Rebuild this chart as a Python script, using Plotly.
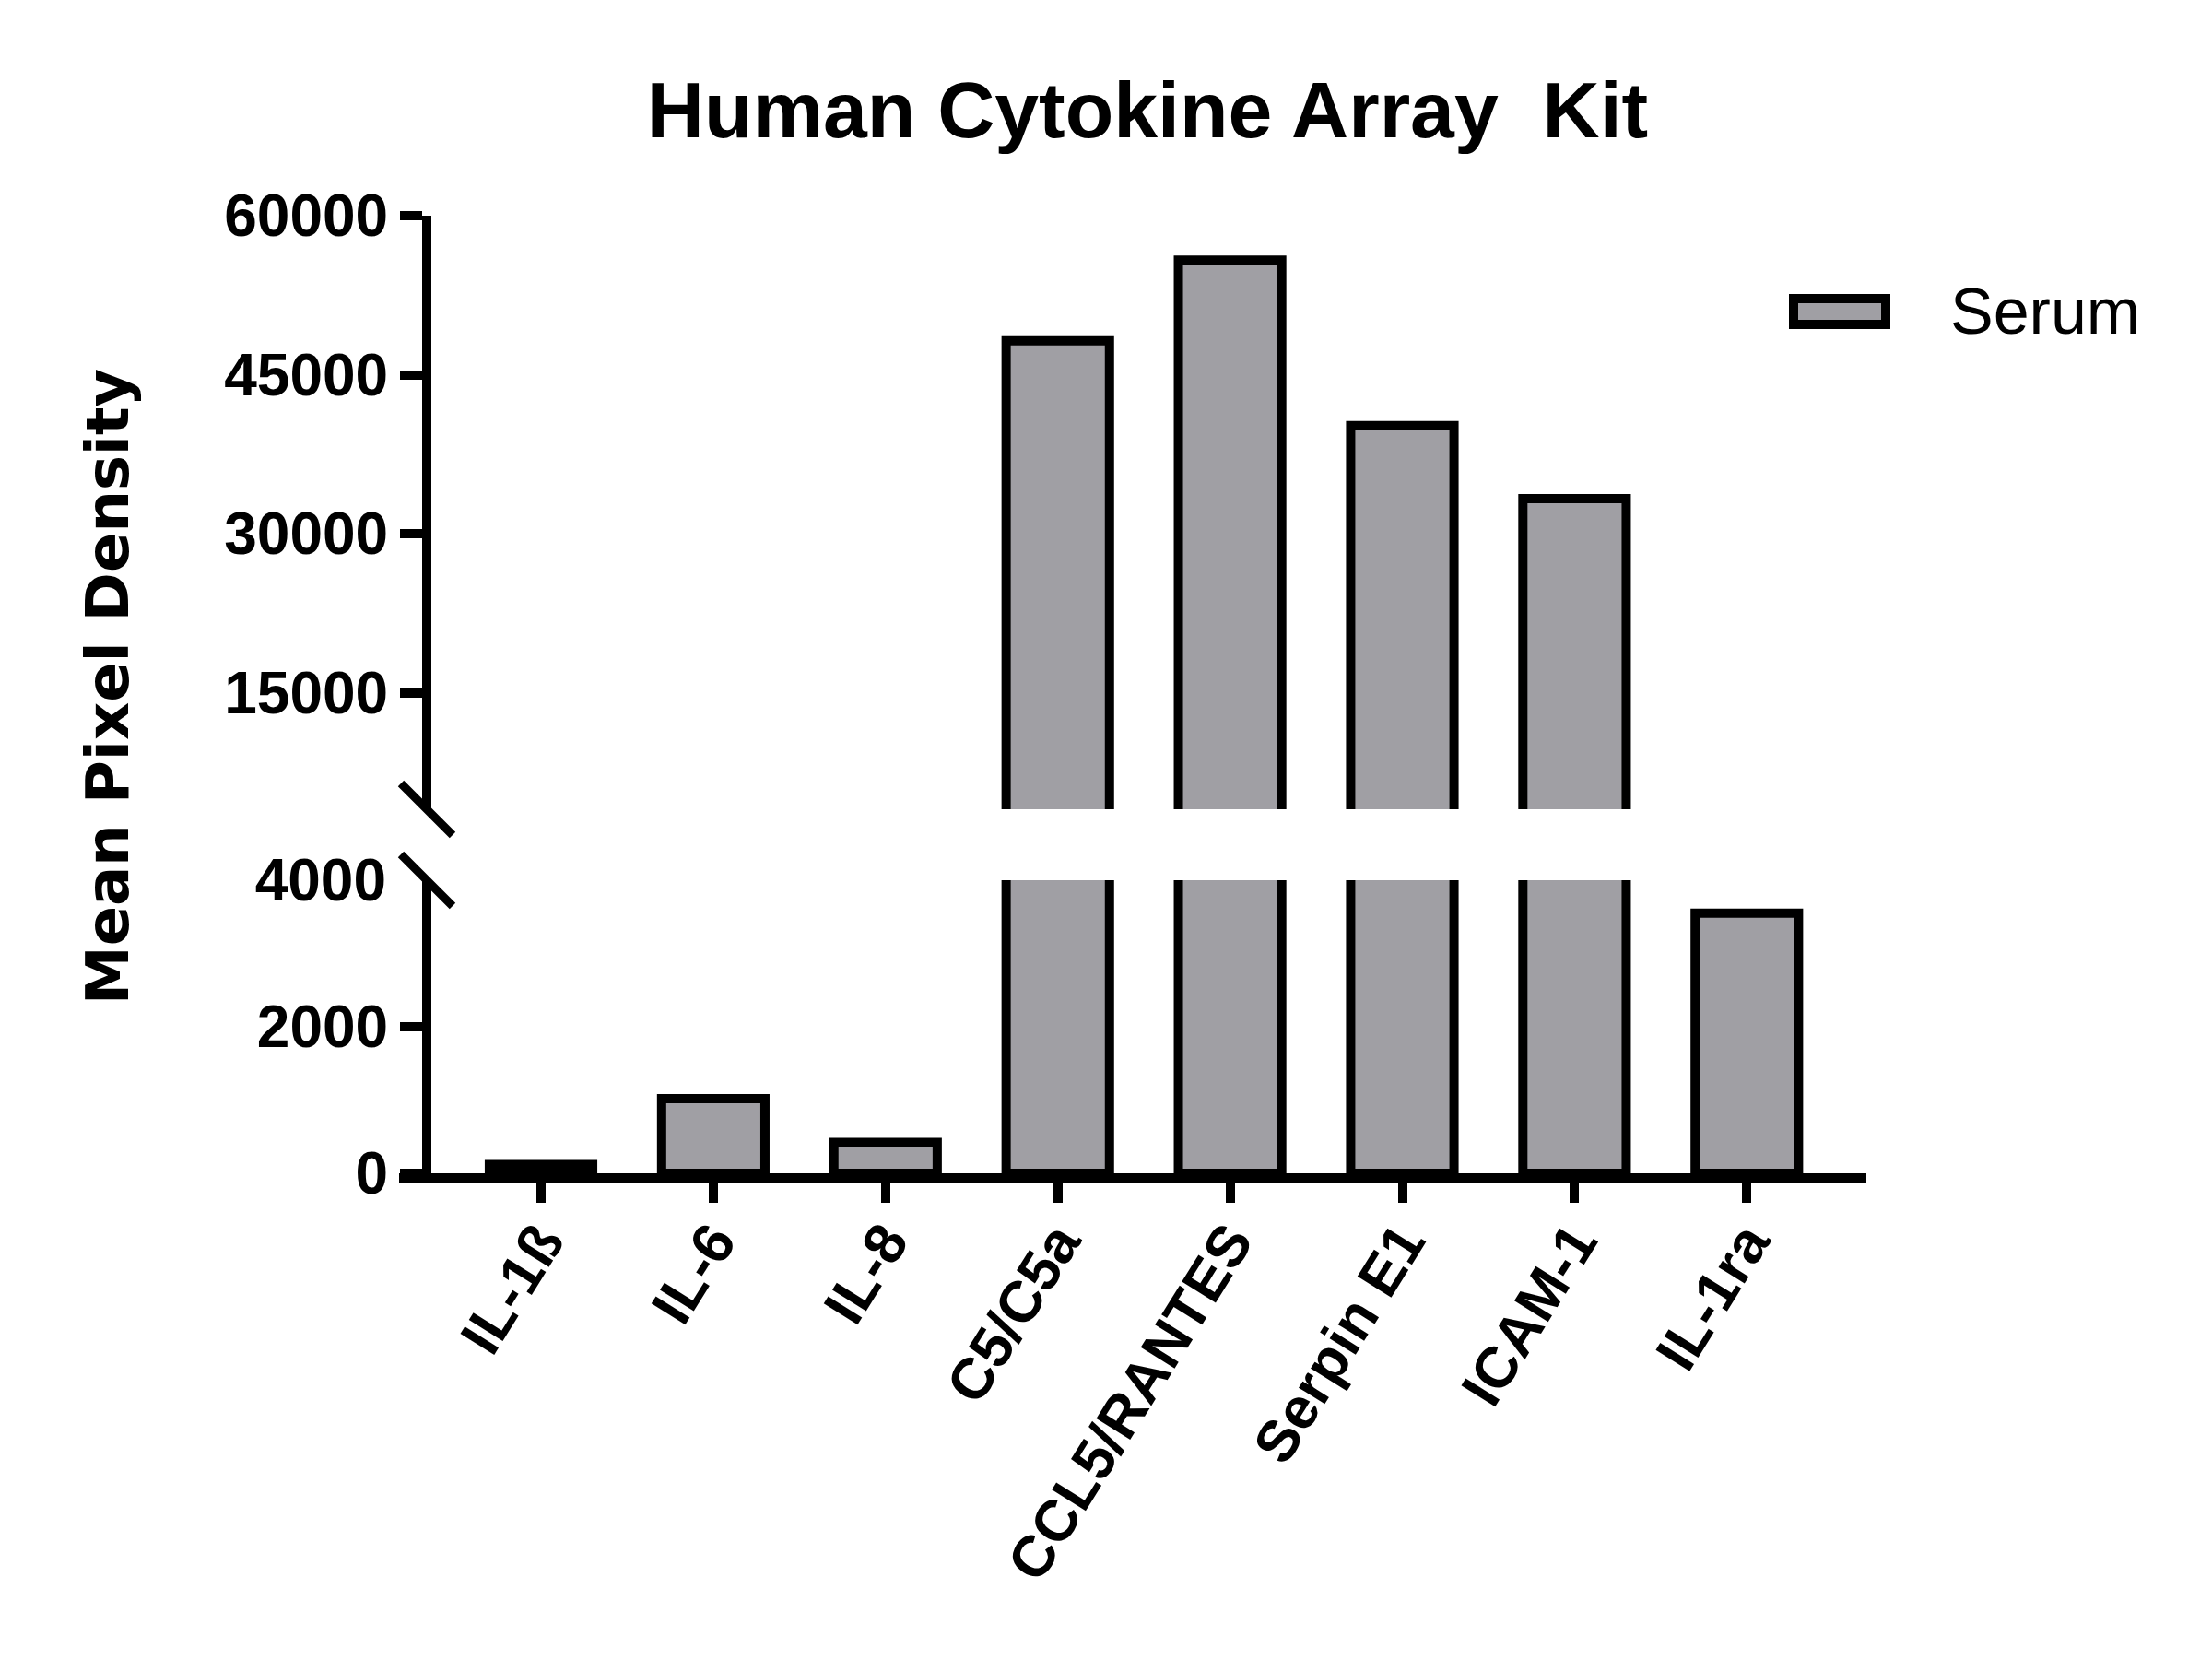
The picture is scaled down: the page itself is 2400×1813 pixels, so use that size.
import plotly.graph_objects as go

# values (mean pixel density, serum)
categories = ["IL-1ß", "IL-6", "IL-8", "C5/C5a", "CCL5/RANTES", "Serpin E1", "ICAM-1", "IL-1ra"]
serum = [120, 1020, 420, 48200, 55800, 40200, 33300, 3550]

lower_ticks = [0, 2000]
lower_top_label = [4000]
upper_ticks = [15000, 30000, 45000, 60000]
break_value = 4000
top_value = 60000

bar_fill = "#a09fa4"
black = "#000000"

# the page body adds an 8px margin around the figure
off = 8
W, H = 2400, 1813
FW, FH = W - 2 * off, H - 2 * off

# plot area in page pixels (as measured on the reference)
left, right, top, bottom = 433, 2025, 234, 1273
pw = right - left
ph = bottom - top


def px_x(px):
    return (px - left) / pw


def px_y(py):
    return (bottom - py) / ph


yaxis_pos = px_x(463)
lower_dom = [0, px_y(955)]
upper_dom = [px_y(878), 1]

ytick_font = dict(family="Arial, Liberation Sans", size=64, color=black, weight="bold")
xtick_font = dict(family="Arial, Liberation Sans", size=63, color=black, weight="bold")
bar_marker = dict(color=bar_fill, line=dict(color=black, width=10))

fig = go.Figure()
fig.add_trace(go.Bar(x=categories, y=serum, name="Serum", marker=bar_marker,
                     width=0.6, xaxis="x", yaxis="y", showlegend=False, hoverinfo="x+y"))
fig.add_trace(go.Bar(x=categories, y=serum, name="Serum", marker=bar_marker,
                     width=0.6, xaxis="x", yaxis="y2", showlegend=False, hoverinfo="x+y"))
# empty trace so the label-only axis (4000 at the top of the lower segment) gets drawn
fig.add_trace(go.Scatter(x=[], y=[], xaxis="x", yaxis="y3", showlegend=False, hoverinfo="skip"))

yax = dict(anchor="free", position=yaxis_pos, showline=True, linewidth=10, linecolor=black,
           ticks="outside", ticklen=24, tickwidth=10, tickcolor=black, tickfont=ytick_font,
           tickformat="d", showgrid=False, zeroline=False, automargin=False)

# break marks on the y axis
slash = dict(type="line", xref="paper", yref="paper", xsizemode="pixel", xanchor=yaxis_pos,
             x0=-28, x1=28, ysizemode="pixel", y0=28, y1=-28, line=dict(color=black, width=9))

fig.update_layout(
    width=FW, height=FH,
    margin=dict(l=left - off, r=FW - (right - off), t=top - off, b=FH - (bottom - off),
                autoexpand=False),
    paper_bgcolor="white", plot_bgcolor="white",
    showlegend=False,
    title=dict(text="Human Cytokine Array\u00a0 Kit", x=(1245 - off) / FW, xanchor="center",
               xref="container", y=1 - (119 - off) / FH, yref="container", yanchor="middle",
               font=dict(family="Arial, Liberation Sans", size=86, color=black, weight="bold")),
    xaxis=dict(domain=[0, 1], range=[-0.824, 7.694], anchor="y", showline=True, linewidth=10,
               linecolor=black, ticks="outside", ticklen=22, tickwidth=10, tickcolor=black,
               tickangle=-58, ticklabelstandoff=-20, tickfont=xtick_font, showgrid=False,
               zeroline=False, automargin=False),
    yaxis=dict(domain=lower_dom, range=[0, break_value], tickvals=lower_ticks, **yax),
    yaxis2=dict(domain=upper_dom, range=[break_value, top_value], tickvals=upper_ticks, **yax),
    yaxis3=dict(overlaying="y", anchor="free", position=yaxis_pos, range=[0, break_value],
                tickvals=lower_top_label, ticks="", ticklabelstandoff=44, showline=False,
                tickfont=ytick_font, tickformat="d", showgrid=False, zeroline=False,
                automargin=False),
    shapes=[
        dict(slash, yanchor=upper_dom[0]),
        dict(slash, yanchor=lower_dom[1]),
        # legend swatch
        dict(type="rect", xref="paper", yref="paper", xsizemode="pixel", ysizemode="pixel",
             xanchor=px_x(1996), x0=-50, x1=50, yanchor=px_y(338), y0=-14, y1=14,
             fillcolor=bar_fill, line=dict(color=black, width=10)),
    ],
    annotations=[
        dict(text="Mean Pixel Density", textangle=-90, xref="paper", yref="paper",
             x=px_x(117), y=px_y(745), xanchor="center", yanchor="middle", showarrow=False,
             font=dict(family="DejaVu Sans", size=64, color=black, weight="bold")),
        dict(text="Serum", xref="paper", yref="paper", x=px_x(2114), y=px_y(338),
             xanchor="left", yanchor="middle", showarrow=False,
             font=dict(family="Arial, Liberation Sans", size=70, color=black)),
    ],
)

fig.write_html("out.html")
